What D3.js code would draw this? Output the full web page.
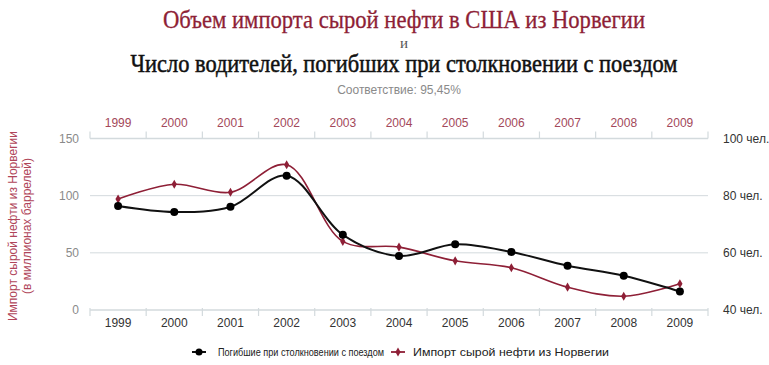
<!DOCTYPE html>
<html>
<head>
<meta charset="utf-8">
<script src="https://cdn.jsdelivr.net/npm/d3@7"></script>
<style>
  html, body { margin: 0; padding: 0; background: #fff; }
  svg { display: block; }
</style>
</head>
<body>
<svg id="chart" width="769" height="365"></svg>
<script>
const years = ["1999","2000","2001","2002","2003","2004","2005","2006","2007","2008","2009"];
const oilImports = [97, 110, 103, 127, 60, 55, 43, 37, 20, 12, 23];
const trainDeaths = [76.4, 74.3, 76.1, 87, 66.3, 58.9, 63, 60.3, 55.5, 52, 46.5];
const leftTicks = [0, 50, 100, 150];
const rightTicks = [40, 60, 80, 100];
const titleLine1 = "Объем импорта сырой нефти в США из Норвегии";
const titleAnd = "и";
const titleLine2 = "Число водителей, погибших при столкновении с поездом";
const subtitle = "Соответствие: 95,45%";
const leftAxisTitle = ["Импорт сырой нефти из Норвегии", "(в миллионах баррелей)"];
const legendLabels = ["Погибшие при столкновении с поездом", "Импорт сырой нефти из Норвегии"];

const RED = "#8e1f36";
const RED_TEXT = "#a3485a";
const GRID = "#d3dadd";

const svg = d3.select("#chart");
const plot = {left: 90, right: 708, top: 138.5, bottom: 310};

const x = d3.scaleBand().domain(years).range([plot.left, plot.right]);
const yL = d3.scaleLinear().domain([0, 150]).range([plot.bottom, plot.top]);
const yR = d3.scaleLinear().domain([40, 100]).range([plot.bottom, plot.top]);
const cx = d => x(d) + x.bandwidth() / 2;

// Titles
const serif = "'Liberation Serif', 'DejaVu Serif', serif";
svg.append("text").attr("x", 404).attr("y", 28).attr("text-anchor", "middle")
  .attr("font-family", serif).attr("font-size", 25).attr("fill", RED)
  .attr("stroke", RED).attr("stroke-width", 0.3)
  .attr("textLength", 482).attr("lengthAdjust", "spacingAndGlyphs").text(titleLine1);
svg.append("text").attr("x", 404).attr("y", 48).attr("text-anchor", "middle")
  .attr("font-family", serif).attr("font-size", 15).attr("fill", "#555").text(titleAnd);
svg.append("text").attr("x", 404).attr("y", 72).attr("text-anchor", "middle")
  .attr("font-family", serif).attr("font-size", 25).attr("fill", "#111")
  .attr("stroke", "#111").attr("stroke-width", 0.5)
  .attr("textLength", 547).attr("lengthAdjust", "spacingAndGlyphs").text(titleLine2);
svg.append("text").attr("x", 399).attr("y", 94).attr("text-anchor", "middle")
  .attr("font-family", "'Liberation Sans', Arial, sans-serif").attr("font-size", 12)
  .attr("fill", "#8a8a8a").text(subtitle);

const sans = "'Liberation Sans', Arial, sans-serif";

// Gridlines
svg.append("g").selectAll("line").data([50, 100]).join("line")
  .attr("x1", plot.left).attr("x2", plot.right)
  .attr("y1", d => yL(d)).attr("y2", d => yL(d))
  .attr("stroke", GRID).attr("stroke-width", 1);

// Bottom axis
const bottomAxis = d3.axisBottom(x).tickSize(0).tickPadding(8);
const gB = svg.append("g").attr("transform", `translate(0,${plot.bottom})`).call(bottomAxis);
gB.select(".domain").remove();
gB.selectAll("text").attr("font-family", sans).attr("font-size", 12).attr("fill", "#333");
svg.append("line").attr("x1", plot.left).attr("x2", plot.right)
  .attr("y1", plot.bottom).attr("y2", plot.bottom).attr("stroke", GRID).attr("stroke-width", 1.5);
svg.append("g").selectAll("line").data(years.concat(["end"])).join("line")
  .attr("x1", (d, i) => i < years.length ? x(d) : plot.right)
  .attr("x2", (d, i) => i < years.length ? x(d) : plot.right)
  .attr("y1", plot.bottom - 2).attr("y2", plot.bottom + 6)
  .attr("stroke", GRID).attr("stroke-width", 1.2);

// Top axis
const topAxis = d3.axisTop(x).tickSize(0).tickPadding(12);
const gT = svg.append("g").attr("transform", `translate(0,${plot.top})`).call(topAxis);
gT.select(".domain").remove();
gT.selectAll("text").attr("font-family", sans).attr("font-size", 12).attr("fill", RED_TEXT);
svg.append("line").attr("x1", plot.left).attr("x2", plot.right)
  .attr("y1", plot.top).attr("y2", plot.top).attr("stroke", GRID).attr("stroke-width", 1.5);
svg.append("g").selectAll("line").data(years.concat(["end"])).join("line")
  .attr("x1", (d, i) => i < years.length ? x(d) : plot.right)
  .attr("x2", (d, i) => i < years.length ? x(d) : plot.right)
  .attr("y1", plot.top - 7).attr("y2", plot.top)
  .attr("stroke", GRID).attr("stroke-width", 1.2);

// Left axis
const leftAxis = d3.axisLeft(yL).tickValues(leftTicks).tickSize(0).tickPadding(11);
const gL = svg.append("g").attr("transform", `translate(${plot.left},0)`).call(leftAxis);
gL.select(".domain").remove();
gL.selectAll("text").attr("font-family", sans).attr("font-size", 12).attr("fill", "#8a8a8a");

// Right axis
const rightAxis = d3.axisRight(yR).tickValues(rightTicks).tickSize(0).tickPadding(15)
  .tickFormat(d => d + " чел.");
const gR = svg.append("g").attr("transform", `translate(${plot.right},0)`).call(rightAxis);
gR.select(".domain").remove();
gR.selectAll("text").attr("font-family", sans).attr("font-size", 12).attr("fill", "#333");

// Left axis title
const yt = svg.append("text").attr("transform", "translate(17,226) rotate(-90)")
  .attr("text-anchor", "middle").attr("font-family", sans).attr("font-size", 12)
  .attr("fill", "#b0455a");
yt.append("tspan").attr("x", 0).attr("dy", 0).text(leftAxisTitle[0]);
yt.append("tspan").attr("x", 0).attr("dy", 14).text(leftAxisTitle[1]);

// Lines
const curve = d3.curveCatmullRom.alpha(0.5);
const lineOil = d3.line().x((d, i) => cx(years[i])).y(d => yL(d)).curve(curve);
const lineDeaths = d3.line().x((d, i) => cx(years[i])).y(d => yR(d)).curve(curve);

svg.append("path").datum(oilImports).attr("d", lineOil)
  .attr("fill", "none").attr("stroke", RED).attr("stroke-width", 1.6);
svg.append("path").datum(trainDeaths).attr("d", lineDeaths)
  .attr("fill", "none").attr("stroke", "#111").attr("stroke-width", 2);

const diamond = d3.symbol().type(d3.symbolDiamond).size(24);
svg.append("g").selectAll("path").data(oilImports).join("path")
  .attr("d", diamond)
  .attr("transform", (d, i) => `translate(${cx(years[i])},${yL(d)})`)
  .attr("fill", RED);
svg.append("g").selectAll("circle").data(trainDeaths).join("circle")
  .attr("cx", (d, i) => cx(years[i])).attr("cy", d => yR(d)).attr("r", 4)
  .attr("fill", "#000");

// Legend
const lg = svg.append("g").attr("font-family", sans);
lg.append("line").attr("x1", 192).attr("x2", 206).attr("y1", 352).attr("y2", 352)
  .attr("stroke", "#111").attr("stroke-width", 2);
lg.append("circle").attr("cx", 199).attr("cy", 352).attr("r", 3.5).attr("fill", "#000");
lg.append("text").attr("x", 218).attr("y", 356).attr("fill", "#222").attr("font-size", 10.5)
  .attr("textLength", 166).attr("lengthAdjust", "spacingAndGlyphs").text(legendLabels[0]);
lg.append("line").attr("x1", 391).attr("x2", 405).attr("y1", 352).attr("y2", 352)
  .attr("stroke", RED).attr("stroke-width", 1.8);
lg.append("path").attr("d", diamond).attr("transform", "translate(398,352)").attr("fill", RED);
lg.append("text").attr("x", 413).attr("y", 356).attr("fill", "#222").attr("font-size", 11.5)
  .attr("textLength", 196).attr("lengthAdjust", "spacingAndGlyphs").text(legendLabels[1]);
</script>
</body>
</html>
